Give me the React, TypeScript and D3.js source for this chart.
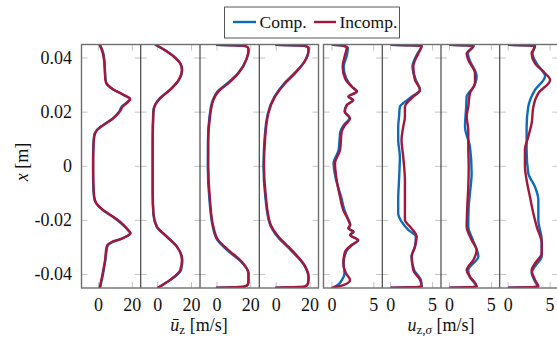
import React from "react";
import * as d3 from "d3";

// Each profile point: [radial position x (m), velocity (m/s)]
type Pt = [number, number];

const legendLabels = ["Comp.", "Incomp."];
const posTicks = [0.04, 0.02, 0, -0.02, -0.04];
const posTickLabels = ["0.04", "0.02", "0", "-0.02", "-0.04"];
const meanTicks = [0, 20];
const rmsTicks = [0, 5];

// Mean axial velocity profiles, stations 1..4
const mean1Comp: Pt[] = [
  [0.0448, 1.0], [0.042, 2.8], [0.0393, 3.5], [0.035, 3.9], [0.032, 4.2], [0.0303, 5.2],
  [0.0285, 8.6], [0.0265, 14.3], [0.0248, 18.6], [0.0238, 17.2], [0.0222, 14.0],
  [0.0202, 12.2], [0.0177, 8.5], [0.0152, 2.7], [0.0134, -0.9], [0.011, -2.6],
  [0.006, -3.1], [0, -3.2], [-0.006, -3.1], [-0.0113, -2.6], [-0.0137, -1.3],
  [-0.0162, 2.6], [-0.0187, 8.4], [-0.0211, 13.4], [-0.0235, 17.3], [-0.0248, 18.8],
  [-0.0258, 17.0], [-0.0268, 13.8], [-0.028, 8.3], [-0.0297, 5.2], [-0.0347, 4.1],
  [-0.0396, 2.8], [-0.0448, 1.0],
];
const mean1Incomp: Pt[] = [
  [0.0448, 0.8], [0.042, 2.5], [0.0393, 3.3], [0.035, 3.8], [0.032, 4.1], [0.0303, 5.0],
  [0.0285, 8.5], [0.0265, 14.5], [0.0248, 18.8], [0.0238, 17.5], [0.0222, 14.5],
  [0.0202, 12.6], [0.0177, 8.8], [0.0152, 2.9], [0.0134, -0.8], [0.011, -2.5],
  [0.006, -3.0], [0, -3.1], [-0.006, -3.0], [-0.0113, -2.5], [-0.0137, -1.2],
  [-0.0162, 2.9], [-0.0187, 8.8], [-0.0211, 13.8], [-0.0235, 17.5], [-0.0248, 19.0],
  [-0.0258, 17.0], [-0.0268, 13.5], [-0.028, 7.8], [-0.0297, 4.9], [-0.0347, 3.9],
  [-0.0396, 2.5], [-0.0448, 0.8],
];
const mean2Comp: Pt[] = [
  [0.0448, -1.0], [0.0424, 5.6], [0.04, 10.7], [0.038, 13.5], [0.0356, 14.5], [0.0319, 12.6],
  [0.0282, 7.2], [0.0251, 1.2], [0.0226, -1.6], [0.0202, -2.6], [0.0097, -3.0], [0, -3.0],
  [-0.0097, -3.0], [-0.0174, -2.6], [-0.0223, -0.6], [-0.026, 5.3], [-0.0297, 11.4],
  [-0.0347, 14.6], [-0.0384, 13.8], [-0.042, 7.6], [-0.0448, 0.4],
];
const mean2Incomp: Pt[] = [
  [0.0448, -1.0], [0.0424, 5.4], [0.04, 10.5], [0.038, 13.3], [0.0356, 14.3], [0.0319, 12.4],
  [0.0282, 7.3], [0.0251, 1.4], [0.0226, -1.5], [0.0202, -2.5], [0.0097, -2.9], [0, -2.9],
  [-0.0097, -2.9], [-0.0174, -2.5], [-0.0223, -0.5], [-0.026, 5.4], [-0.0297, 11.3],
  [-0.0347, 14.3], [-0.0384, 13.3], [-0.042, 7.3], [-0.0448, 0.4],
];
const mean3Comp: Pt[] = [
  [0.0449, 0], [0.0445, 16.0], [0.0438, 18.4], [0.0425, 18.7], [0.0398, 17.6], [0.0344, 12.4],
  [0.0307, 6.2], [0.0276, 0.3], [0.0245, -2.4], [0.0183, -4.4], [0.0097, -5.3], [0, -5.4],
  [-0.0125, -4.4], [-0.0224, -2.4], [-0.0273, 0.3], [-0.031, 6.0], [-0.0353, 14.3],
  [-0.0396, 18.7], [-0.0425, 18.7], [-0.0438, 18.2], [-0.0445, 16.0], [-0.0449, 0],
];
const mean3Incomp: Pt[] = [
  [0.0449, 0], [0.0445, 16.0], [0.0438, 18.4], [0.0425, 18.6], [0.0398, 17.6], [0.0344, 12.7],
  [0.0307, 6.8], [0.0276, 0.8], [0.0245, -2.1], [0.0183, -4.1], [0.0097, -5.1], [0, -5.1],
  [-0.0125, -4.1], [-0.0224, -2.1], [-0.0273, 0.8], [-0.031, 6.8], [-0.0353, 14.7],
  [-0.0396, 18.6], [-0.0425, 18.6], [-0.0438, 18.2], [-0.0445, 16.0], [-0.0449, 0],
];
const mean4Comp: Pt[] = [
  [0.0449, 0], [0.0445, 17.0], [0.0438, 19.1], [0.0425, 19.1], [0.039, 17.0], [0.0344, 10.8],
  [0.0307, 4.8], [0.0257, -1.0], [0.0196, -4.9], [0.0097, -6.9], [0, -7.5], [-0.0113, -6.4],
  [-0.021, -3.9], [-0.026, 0.7], [-0.031, 8.6], [-0.037, 17.0], [-0.0408, 19.2],
  [-0.0432, 18.9], [-0.0445, 17.0], [-0.0449, 0],
];
const mean4Incomp: Pt[] = [
  [0.0449, 0], [0.0445, 17.0], [0.0438, 19.0], [0.0425, 19.0], [0.039, 17.1], [0.0344, 11.2],
  [0.0307, 5.3], [0.0257, -0.7], [0.0196, -4.6], [0.0097, -6.6], [0, -7.2], [-0.0113, -6.1],
  [-0.021, -3.6], [-0.026, 1.3], [-0.031, 9.2], [-0.037, 17.1], [-0.0408, 19.0],
  [-0.0432, 18.8], [-0.0445, 17.0], [-0.0449, 0],
];

// RMS axial velocity fluctuation profiles, stations 1..4
const rms1Comp: Pt[] = [
  [0.0449, 0.1], [0.0445, 1.5], [0.0438, 1.9], [0.0411, 1.8], [0.0368, 1.4], [0.0325, 1.7],
  [0.0294, 2.4], [0.0276, 3.0], [0.0257, 2.0], [0.0245, 2.5], [0.0226, 1.8], [0.0202, 1.5],
  [0.0177, 2.1], [0.0152, 1.4], [0.0128, 1.0], [0.006, 0.8], [0.0011, 0.2], [-0.0051, 0.5],
  [-0.0113, 1.1], [-0.0162, 1.5], [-0.0199, 2.0], [-0.0217, 2.2], [-0.023, 2.0],
  [-0.0242, 2.6], [-0.0254, 2.2], [-0.0273, 3.1], [-0.0291, 2.4], [-0.0316, 1.7],
  [-0.0359, 1.4], [-0.0396, 1.5], [-0.042, 1.2], [-0.0439, 0.7], [-0.0449, 0.1],
];
const rms1Incomp: Pt[] = [
  [0.0449, 0.1], [0.0445, 1.4], [0.0438, 1.76], [0.0411, 1.56], [0.0368, 1.28], [0.0325, 1.56],
  [0.0294, 2.36], [0.0276, 2.95], [0.0257, 1.95], [0.0245, 2.55], [0.0226, 1.76],
  [0.0202, 1.56], [0.0177, 2.16], [0.0152, 1.56], [0.0128, 1.17], [0.006, 0.97],
  [0.0011, 0.37], [-0.0051, 0.57], [-0.0113, 0.97], [-0.0162, 1.36], [-0.0199, 1.95],
  [-0.0217, 2.16], [-0.023, 1.95], [-0.0242, 2.55], [-0.0254, 2.16], [-0.0273, 3.15],
  [-0.0291, 2.36], [-0.0316, 1.56], [-0.0359, 1.36], [-0.0396, 1.68], [-0.042, 2.16],
  [-0.0439, 1.36], [-0.0449, 0.1],
];
const rms2Comp: Pt[] = [
  [0.0449, 0.1], [0.0445, 3.7], [0.0417, 3.2], [0.0368, 2.6], [0.0319, 3.0], [0.0282, 3.5],
  [0.0257, 2.5], [0.0233, 1.5], [0.022, 1.1], [0.0183, 1.0], [0.0146, 0.9], [0.0097, 0.9],
  [0.0035, 1.1], [-0.0051, 1.0], [-0.0125, 0.9], [-0.0174, 0.9], [-0.0205, 1.3],
  [-0.0235, 2.1], [-0.026, 3.0], [-0.0297, 2.9], [-0.0334, 2.5], [-0.0384, 2.8],
  [-0.042, 3.6], [-0.0445, 3.7], [-0.0449, 0.1],
];
const rms2Incomp: Pt[] = [
  [0.0449, 0.1], [0.0445, 3.7], [0.0417, 3.3], [0.0368, 2.7], [0.0319, 2.9], [0.0282, 3.5],
  [0.0257, 2.7], [0.0233, 1.9], [0.022, 1.7], [0.0183, 1.7], [0.0146, 1.5], [0.0097, 1.3],
  [0.0035, 1.5], [-0.0051, 1.7], [-0.0125, 1.7], [-0.0199, 1.7], [-0.0223, 2.3],
  [-0.026, 3.1], [-0.0297, 2.9], [-0.0334, 2.5], [-0.0384, 2.7], [-0.042, 3.5],
  [-0.0445, 3.7], [-0.0449, 0.1],
];
const rms3Comp: Pt[] = [
  [0.0449, 0.1], [0.0445, 2.9], [0.0417, 2.2], [0.0393, 2.4], [0.0333, 3.25], [0.0295, 2.9],
  [0.0257, 2.06], [0.022, 2.0], [0.0146, 1.86], [0.0072, 2.45], [-0.0026, 2.65],
  [-0.01, 2.45], [-0.015, 2.3], [-0.0223, 2.25], [-0.0273, 2.8], [-0.0334, 3.45],
  [-0.0384, 2.25], [-0.0408, 2.4], [-0.0445, 3.2], [-0.0449, 0.1],
];
const rms3Incomp: Pt[] = [
  [0.0449, 0.1], [0.0445, 2.85], [0.0417, 2.06], [0.0393, 2.25], [0.0344, 3.05], [0.0307, 3.05],
  [0.027, 2.45], [0.022, 2.25], [0.0183, 2.06], [0.0134, 2.25], [0.0072, 2.25], [0, 2.3],
  [-0.0076, 2.25], [-0.015, 2.13], [-0.0223, 2.06], [-0.0273, 2.65], [-0.031, 3.25],
  [-0.0347, 2.85], [-0.0384, 2.06], [-0.0408, 2.45], [-0.0445, 3.25], [-0.0449, 0.1],
];
const rms4Comp: Pt[] = [
  [0.0449, 0.1], [0.0445, 3.2], [0.0417, 2.9], [0.038, 3.4], [0.0333, 4.4], [0.0282, 3.2],
  [0.022, 2.4], [0.0146, 2.2], [0.006, 2.2], [-0.0026, 2.4], [-0.0076, 3.2], [-0.0125, 3.6],
  [-0.0199, 3.6], [-0.0273, 4.0], [-0.0334, 4.0], [-0.037, 3.2], [-0.0395, 2.8],
  [-0.042, 3.1], [-0.0445, 3.5], [-0.0449, 0.1],
];
const rms4Incomp: Pt[] = [
  [0.0449, 0.1], [0.0445, 3.2], [0.0417, 2.8], [0.038, 3.2], [0.0344, 4.4], [0.0319, 5.0],
  [0.027, 3.6], [0.022, 3.0], [0.0159, 2.8], [0.0109, 2.4], [0.006, 2.0], [0, 2.0],
  [-0.0051, 2.2], [-0.0113, 2.6], [-0.0174, 3.0], [-0.0223, 3.4], [-0.0285, 4.0],
  [-0.0322, 4.0], [-0.0359, 3.2], [-0.0384, 2.8], [-0.042, 3.2], [-0.0445, 3.6], [-0.0449, 0.1],
];

const COMP_COLOR = "#0d6bbd";
const INCOMP_COLOR = "#a3173a";
const FONT = "'Liberation Serif', serif";
const textStyle = { fontFamily: FONT, fontSize: 18, fill: "#111" };

const TOP = 44.5;
const BOTTOM = 288;

type Panel = {
  x0: number;
  w: number;
  domain: [number, number];
  ticks: number[];
  comp: Pt[];
  incomp: Pt[];
};

const meanSeries: [Pt[], Pt[]][] = [
  [mean1Comp, mean1Incomp],
  [mean2Comp, mean2Incomp],
  [mean3Comp, mean3Incomp],
  [mean4Comp, mean4Incomp],
];
const rmsSeries: [Pt[], Pt[]][] = [
  [rms1Comp, rms1Incomp],
  [rms2Comp, rms2Incomp],
  [rms3Comp, rms3Incomp],
  [rms4Comp, rms4Incomp],
];

const GROUPS = [
  { x0: 81.5, w: 59.25, domain: [-10, 25] as [number, number], ticks: meanTicks, series: meanSeries },
  { x0: 323.5, w: 58.75, domain: [-1, 6] as [number, number], ticks: rmsTicks, series: rmsSeries },
];

export default function App() {
  const y = d3.scaleLinear().domain([0.045, -0.045]).range([TOP, BOTTOM]);

  const panels: Panel[] = [];
  GROUPS.forEach((g) => {
    g.series.forEach(([comp, incomp], i) => {
      panels.push({ x0: g.x0 + i * g.w, w: g.w, domain: g.domain, ticks: g.ticks, comp, incomp });
    });
  });

  const tickLen = 6;

  return (
    <svg
      width={557}
      height={338}
      style={{ position: "absolute", left: 0, top: 0, background: "#fff" }}
    >
      <defs>
        {panels.map((p, i) => (
          <clipPath id={`clip-${i}`} key={i}>
            <rect x={p.x0} y={TOP} width={p.w} height={BOTTOM - TOP} />
          </clipPath>
        ))}
      </defs>

      {panels.map((p, i) => {
        const x = d3.scaleLinear().domain(p.domain).range([p.x0, p.x0 + p.w]);
        const line = d3
          .line<Pt>()
          .x((d) => x(d[1]))
          .y((d) => y(d[0]))
          .curve(d3.curveMonotoneY);
        return (
          <g key={i}>
            {posTicks.map((t) => (
              <g key={`y${t}`} stroke="#c4c4c4" strokeWidth={1}>
                <line x1={p.x0} x2={p.x0 + tickLen} y1={y(t)} y2={y(t)} />
                <line x1={p.x0 + p.w - tickLen} x2={p.x0 + p.w} y1={y(t)} y2={y(t)} />
              </g>
            ))}
            {p.ticks.map((t) => (
              <g key={`x${t}`} stroke="#c4c4c4" strokeWidth={1}>
                <line x1={x(t)} x2={x(t)} y1={TOP} y2={TOP + tickLen} />
                <line x1={x(t)} x2={x(t)} y1={BOTTOM - tickLen} y2={BOTTOM} />
              </g>
            ))}
            <g clipPath={`url(#clip-${i})`} fill="none" strokeWidth={2.4} strokeLinejoin="round" strokeLinecap="round">
              <path d={line(p.comp) ?? ""} stroke={COMP_COLOR} />
              <path d={line(p.incomp) ?? ""} stroke={INCOMP_COLOR} />
            </g>
            {p.ticks.map((t) => (
              <text key={`l${t}`} x={x(t)} y={310.5} textAnchor="middle" style={textStyle}>
                {t}
              </text>
            ))}
          </g>
        );
      })}

      {GROUPS.map((g, gi) => (
        <g key={gi}>
          {[1, 2, 3].map((k) => (
            <line
              key={k}
              x1={g.x0 + k * g.w}
              x2={g.x0 + k * g.w}
              y1={TOP}
              y2={BOTTOM}
              stroke="#222"
              strokeWidth={1}
            />
          ))}
          <rect
            x={g.x0}
            y={TOP}
            width={g.w * 4}
            height={BOTTOM - TOP}
            fill="none"
            stroke="#6f6f6f"
            strokeWidth={1.4}
          />
        </g>
      ))}

      {posTicks.map((t, i) => (
        <text key={t} x={72} y={y(t) + 6} textAnchor="end" style={textStyle}>
          {posTickLabels[i]}
        </text>
      ))}
      <text transform="translate(28,162) rotate(-90)" textAnchor="middle" style={textStyle}>
        <tspan fontStyle="italic">x</tspan> [m]
      </text>

      <text x={199} y={331} textAnchor="middle" style={textStyle}>
        <tspan fontStyle="italic">ū</tspan>
        <tspan fontSize={13} dy={3}>z</tspan>
        <tspan dy={-3}> [m/s]</tspan>
      </text>
      <text x={441} y={331} textAnchor="middle" style={textStyle}>
        <tspan fontStyle="italic">u</tspan>
        <tspan fontSize={13} dy={3}>z,</tspan>
        <tspan fontSize={13} fontStyle="italic">σ</tspan>
        <tspan dy={-3}> [m/s]</tspan>
      </text>

      <g>
        <rect x={224.5} y={7} width={175} height={31} fill="#fff" stroke="#555" strokeWidth={1} />
        <line x1={233} x2={256} y1={22} y2={22} stroke={COMP_COLOR} strokeWidth={2.4} />
        <text x={259.5} y={28} style={{ ...textStyle, fontSize: 17.5 }}>{legendLabels[0]}</text>
        <line x1={314} x2={336} y1={22} y2={22} stroke={INCOMP_COLOR} strokeWidth={2.4} />
        <text x={339.5} y={28} style={{ ...textStyle, fontSize: 17.5 }}>{legendLabels[1]}</text>
      </g>
    </svg>
  );
}
